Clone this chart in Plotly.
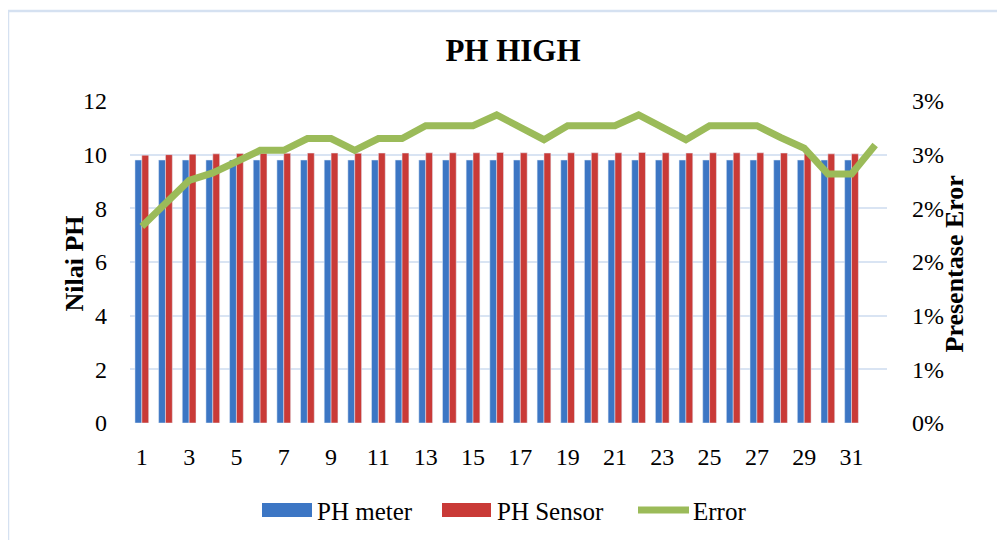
import plotly.graph_objects as go

# data
days = list(range(1, 33))
ph_meter = [9.8] * 31
ph_sensor = [9.98, 10.0, 10.02, 10.03, 10.04, 10.05, 10.05, 10.06, 10.06, 10.05,
             10.06, 10.06, 10.07, 10.07, 10.07, 10.08, 10.07, 10.06, 10.07, 10.07,
             10.07, 10.08, 10.07, 10.06, 10.07, 10.07, 10.07, 10.06, 10.05, 10.03,
             10.03]
error_pct = [1.83, 2.04, 2.26, 2.33, 2.43, 2.54, 2.54, 2.65, 2.65, 2.54,
             2.65, 2.65, 2.77, 2.77, 2.77, 2.87, 2.75, 2.64, 2.77, 2.77,
             2.77, 2.87, 2.75, 2.64, 2.77, 2.77, 2.77, 2.66, 2.56, 2.32,
             2.32, 2.59]
left_ticks = [0, 2, 4, 6, 8, 10, 12]
right_ticks = [0, 0.5, 1, 1.5, 2, 2.5, 3]
right_labels = ["0%", "1%", "1%", "2%", "2%", "3%", "3%"]

# the page body adds an 8px margin, so the figure is drawn 8px smaller
OFF = 8
W, H = 1005 - OFF, 540 - OFF
L, R, T, B = 130 - OFF, 118, 101 - OFF, 117
PW, PH = W - L - R, H - T - B

BLUE = "#3C76C4"
RED = "#C93A37"
GREEN = "#9BBB59"
GRID = "#D9E4F3"
FONT = "Liberation Serif"


# helpers: screen pixel (as in the reference) -> paper coords
def px(x):
    return (x - OFF - L) / PW


def py(y):
    return (H - B - (y - OFF)) / PH


fig = go.Figure()
fig.add_trace(go.Bar(x=days[:31], y=ph_meter, name="PH meter", marker_color=BLUE))
fig.add_trace(go.Bar(x=days[:31], y=ph_sensor, name="PH Sensor", marker_color=RED))
fig.add_trace(go.Scatter(x=days, y=error_pct, name="Error", mode="lines",
                         line=dict(color=GREEN, width=7), yaxis="y2"))

fig.update_layout(
    width=W, height=H,
    margin=dict(l=L, r=R, t=T, b=B),
    paper_bgcolor="white", plot_bgcolor="white",
    font=dict(family=FONT, size=24, color="black"),
    showlegend=False,
    barmode="group", bargap=0.42, bargroupgap=0,
    title=dict(text="PH HIGH", x=px(513), xref="paper", xanchor="center",
               y=1 - (50 - OFF) / H, yanchor="middle",
               font=dict(size=31, weight="bold")),
    xaxis=dict(range=[0.5, 32.5], tickmode="array", tickvals=days[:31:2],
               showgrid=False, zeroline=False, showline=False,
               ticks="", ticklabelstandoff=17),
    yaxis=dict(range=[0, 12], tickvals=left_ticks, showgrid=True, gridcolor=GRID,
               gridwidth=2, zeroline=False, showline=False, ticklabelstandoff=22),
    yaxis2=dict(range=[0, 3], tickvals=right_ticks, ticktext=right_labels,
                overlaying="y", side="right", showgrid=False, zeroline=False,
                showline=False, ticklabelstandoff=24),
)

# axis titles
fig.add_annotation(text="<b>Nilai PH</b>", textangle=-90, xref="paper", yref="paper",
                   x=px(57), y=py(264), showarrow=False, font=dict(size=26))
fig.add_annotation(text="<b>Presentase Eror</b>", textangle=-90, xref="paper", yref="paper",
                   x=px(970), y=py(264), showarrow=False, font=dict(size=26))

# chart border
fig.add_shape(type="rect", xref="paper", yref="paper",
              x0=px(8), x1=px(1015), y0=py(550), y1=py(11),
              line=dict(color="#D5E1F1", width=2.5), layer="below")

# legend drawn by hand
fig.add_shape(type="rect", xref="paper", yref="paper", x0=px(262), x1=px(312),
              y0=py(517), y1=py(503), line_width=0, fillcolor=BLUE)
fig.add_shape(type="rect", xref="paper", yref="paper", x0=px(442), x1=px(491),
              y0=py(517), y1=py(503), line_width=0, fillcolor=RED)
fig.add_shape(type="line", xref="paper", yref="paper", x0=px(638), x1=px(689),
              y0=py(510), y1=py(510), line=dict(color=GREEN, width=7))
for label, x in [("PH meter", 315), ("PH Sensor", 495), ("Error", 691)]:
    fig.add_annotation(text=label, xref="paper", yref="paper", x=px(x), y=py(511),
                       xanchor="left", yanchor="middle", showarrow=False,
                       font=dict(size=25))

fig.write_html("out.html")
